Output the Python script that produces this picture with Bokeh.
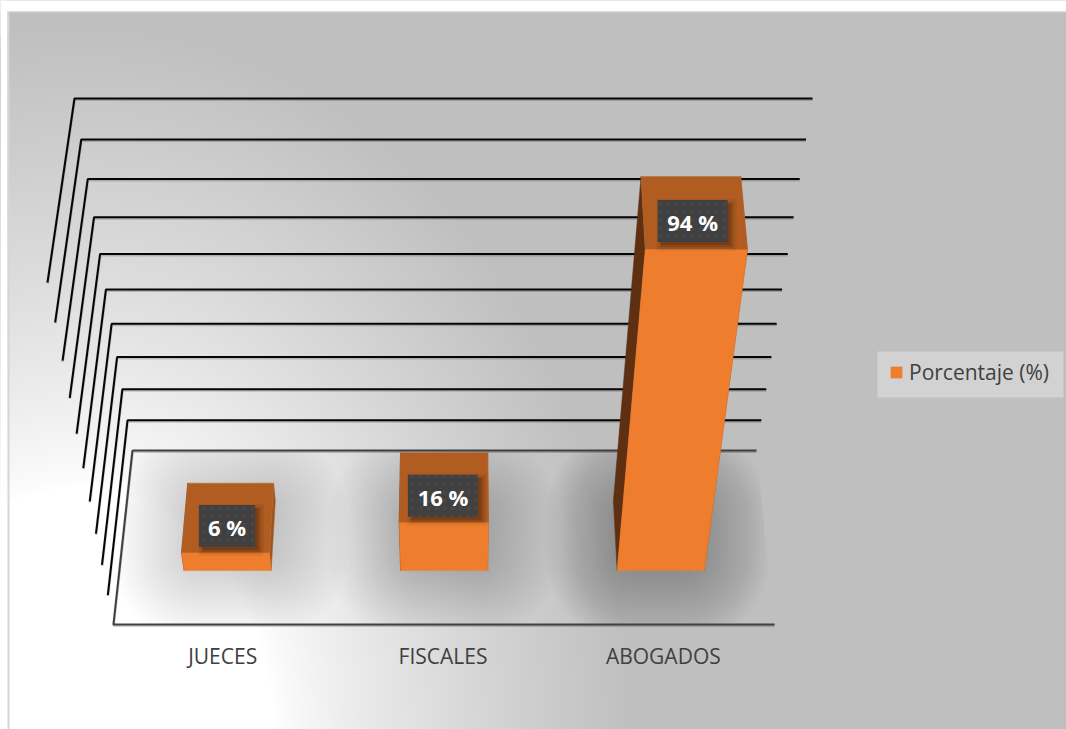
import numpy as np
from bokeh.core.properties import value
from bokeh.embed import file_html
from bokeh.models import Legend, LegendItem, Range1d
from bokeh.plotting import figure
from bokeh.resources import INLINE

categories = ["JUECES", "FISCALES", "ABOGADOS"]
percentages = [6, 16, 94]
percent_labels = ["6 %", "16 %", "94 %"]
grid_ticks = [0, 10, 20, 30, 40, 50, 60, 70, 80, 90, 100]
series_name = "Porcentaje (%)"

W, H = 1066, 729
DEPTH_FRONT, DEPTH_BACK = 0.31, 0.71
BAR_HALF = 0.067


def rise(v):
    s = lambda a: a / (1 - 0.00157 * a)
    return s(v) / s(100)


def project(u, d, v):
    """Perspective of the 3-D box: u across, d into the depth, v up."""
    t = rise(v)
    y_front, y_back = 624 - 342 * t, 450 - 352 * t
    left_front, left_back = 113 - 66 * t, 132 - 58 * t
    right_front, right_back = 774 + 60 * t, 756 + 56 * t
    left = left_front + (left_back - left_front) * d
    right = right_front + (right_back - right_front) * d
    return left + (right - left) * u, y_front + (y_back - y_front) * d


def clip_convex(poly, boundary):
    """Sutherland-Hodgman: clip poly to a convex boundary given clockwise on screen."""
    out = poly
    for (ax, ay), (bx, by) in zip(boundary, boundary[1:] + boundary[:1]):
        side = lambda q: (bx - ax) * (q[1] - ay) - (by - ay) * (q[0] - ax)
        kept = []
        for a, b in zip(out, out[1:] + out[:1]):
            sa, sb = side(a), side(b)
            if sa >= 0:
                kept.append(a)
            if (sa >= 0) != (sb >= 0):
                f = sa / (sa - sb)
                kept.append((a[0] + (b[0] - a[0]) * f, a[1] + (b[1] - a[1]) * f))
        out = kept
        if not out:
            break
    return out


def rounded_rect(x0, y0, x1, y1, rad, n=8):
    rad = max(0.01, min(rad, (x1 - x0) / 2, (y1 - y0) / 2))
    pts = []
    corners = [(x1 - rad, y0 + rad, -90), (x1 - rad, y1 - rad, 0),
               (x0 + rad, y1 - rad, 90), (x0 + rad, y0 + rad, 180)]
    for cx, cy, start in corners:
        for k in range(n + 1):
            a = np.radians(start + 90 * k / n)
            pts.append((cx + rad * np.cos(a), cy + rad * np.sin(a)))
    return pts


p = figure(width=W, height=H, x_range=Range1d(0, W), y_range=Range1d(H, 0),
           x_axis_location=None, y_axis_location=None, toolbar_location=None,
           output_backend="svg", min_border=0, outline_line_color=None,
           border_fill_color="white", background_fill_color="#bfbfbf")
p.grid.visible = False

# ---------- background: glow from the lower-left corner, one band per grey level ----------
band_r, band_col = [], []
for k in range(1, 65):
    band_r.append(195 + 360 * (1 - k / 64) ** 1.25)
    g = 191 + k
    band_col.append(f"#{g:02x}{g:02x}{g:02x}")
p.ellipse(x=[80] * 64, y=[740] * 64, width=[2 * r for r in band_r],
          height=[2 * 1.3 * r for r in band_r], fill_color=band_col, line_color=None)

# ---------- soft shadows on the floor ----------
floor_poly = [project(0, 1, 0), project(1, 1, 0), project(1, 0, 0), project(0, 0, 0)]
sh_x, sh_y = [], []
LAYERS = 28
sh_alpha = []
for i, v in enumerate(percentages):
    c = (i + 0.5) / 3
    x0, y1 = project(c - BAR_HALF, DEPTH_FRONT, 0)
    x1, y0 = project(c + BAR_HALF, DEPTH_BACK, 0)
    strength = 0.21 + 0.0008 * v
    for k in range(LAYERS):
        grow = 72 - 92 * k / (LAYERS - 1)
        rad = 18 + max(grow, 0) * 0.95
        poly = clip_convex(rounded_rect(x0 - grow, y0 - grow, x1 + grow, y1 + grow, rad), floor_poly)
        if poly:
            sh_x.append([q[0] for q in poly])
            sh_y.append([q[1] for q in poly])
            sh_alpha.append(1 - (1 - strength) ** (1 / LAYERS))
p.patches(sh_x, sh_y, fill_color="black", fill_alpha=sh_alpha, line_color=None)

# ---------- chart frame: white page outside, thin light edge ----------
p.quad(left=[0, 0], right=[W, 7], top=[0, 0], bottom=[11, H], fill_color="white", line_color=None)
p.quad(left=[7, 7], right=[9, W], top=[11, 11], bottom=[H, 12], fill_color="#d6d6d6", line_color=None)

# ---------- walls and floor: one bent line per tick ----------
grid_xs, grid_ys = [], []
for v in grid_ticks:
    pts = [project(0, 0, v), project(0, 1, v), project(1, 1, v)]
    if v == 0:
        pts = [project(1, 0, 0)] + pts
    grid_xs.append([q[0] for q in pts])
    grid_ys.append([q[1] for q in pts])
p.multi_line(grid_xs, [[y + 1 for y in ys] for ys in grid_ys], line_color="black",
             line_alpha=0.18, line_width=3)
p.multi_line(grid_xs, grid_ys, line_color=["#404040" if v == 0 else "#050505" for v in grid_ticks],
             line_width=2)

# ---------- bars ----------
front_x, front_y, top_x, top_y, lside_x, lside_y, rside_x, rside_y = [], [], [], [], [], [], [], []
for i, v in enumerate(percentages):
    u0, u1 = (i + 0.5) / 3 - BAR_HALF, (i + 0.5) / 3 + BAR_HALF
    df, db = DEPTH_FRONT, DEPTH_BACK
    faces = [
        (front_x, front_y, [(u0, df, 0), (u1, df, 0), (u1, df, v), (u0, df, v)]),
        (top_x, top_y, [(u0, df, v), (u1, df, v), (u1, db, v), (u0, db, v)]),
        (lside_x, lside_y, [(u0, df, 0), (u0, df, v), (u0, db, v), (u0, db, 0)]),
        (rside_x, rside_y, [(u1, df, 0), (u1, df, v), (u1, db, v), (u1, db, 0)]),
    ]
    for xs, ys, corners in faces:
        q = [project(*c) for c in corners]
        xs.append([a[0] for a in q])
        ys.append([a[1] for a in q])

p.patches(rside_x, rside_y, fill_color="#a25420", line_color="#a25420", line_width=0.5)
p.patches(lside_x, lside_y, fill_color="#5e3011", line_color="#5e3011", line_width=0.5)
p.patches(top_x, top_y, fill_color="#b15c20", line_color="#b96a30", line_width=0.5)
bars = p.patches(front_x, front_y, fill_color="#ee7e2e", line_color="#ee7e2e", line_width=0.5)

# ---------- data labels sitting on the top faces ----------
lx, ly, lw = [], [], []
for i, v in enumerate(percentages):
    x, y = project((i + 0.5) / 3, (DEPTH_FRONT + DEPTH_BACK) / 2, v)
    lx.append(x - 1)
    ly.append(y + 8)
    lw.append(14 * len(percent_labels[i]) + 14)
for off, alpha, grow in [(4, 0.05, 10), (4, 0.07, 6), (4, 0.1, 2), (3, 0.14, 0)]:
    p.rect([a + off for a in lx], [b + off for b in ly], width=[w + grow for w in lw],
           height=42 + grow, fill_color="black", fill_alpha=alpha, line_color=None)
p.rect(lx, ly, width=lw, height=42, fill_color="#404040", line_color=None,
       hatch_pattern="dot", hatch_color="#555555", hatch_scale=8, hatch_alpha=0.3)
p.text(lx, [b + 1 for b in ly], text=percent_labels, text_color="white", text_font=value("Open Sans"),
       text_font_style="bold", text_font_size="22px", text_align="center",
       text_baseline="middle")

# ---------- category labels under the floor ----------
cat_x = [project((i + 0.5) / 3, 0, 0)[0] - 1 for i in range(len(categories))]
p.text(cat_x, [655] * len(categories), text=categories, text_color="#404040",
       text_font=value("Open Sans"), text_font_size="21px", text_align="center",
       text_baseline="middle")

# ---------- legend ----------
p.quad(left=[877], right=[1063], top=[351], bottom=[397], fill_color="#d2d2d2", line_color=None)
legend = Legend(items=[LegendItem(label=series_name, renderers=[bars], index=0)],
                location=(889, 343), orientation="vertical", margin=0, padding=0, spacing=0,
                background_fill_alpha=0, border_line_color=None, glyph_width=14, glyph_height=14,
                label_standoff=6, label_text_font="Open Sans", label_text_font_size="21px",
                label_text_color="#404040", label_height=24)
p.add_layout(legend, "center")

open("out.html", "w").write(file_html(p, INLINE))
